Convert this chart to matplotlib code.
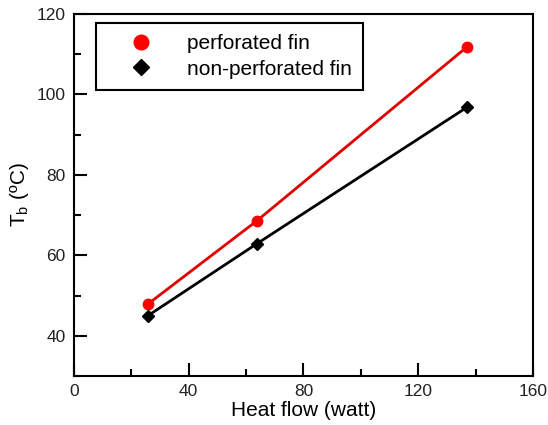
import matplotlib
matplotlib.use('Agg')
import matplotlib.pyplot as plt
from matplotlib.ticker import MultipleLocator

plt.rcParams['font.family'] = ['Liberation Sans', 'DejaVu Sans']

# data
heat_flow = [25.8, 63.8, 137.0]
tb_perforated = [47.9, 68.6, 111.8]
tb_non_perforated = [45.0, 62.9, 96.8]

x_ticks = [0, 40, 80, 120, 160]
y_ticks = [40, 60, 80, 100, 120]

fig = plt.figure(figsize=(5.48, 4.25), dpi=100)
ax = fig.add_axes([0.135, 0.1153, 0.8376, 0.852])

ax.plot(heat_flow, tb_perforated, color='#e00000', lw=2, zorder=2)
ax.plot(heat_flow, tb_non_perforated, color='black', lw=2, zorder=2)
ax.plot(heat_flow, tb_perforated, 'o', color='red', ms=7.5, ls='none',
        label='perforated fin', zorder=3)
ax.plot(heat_flow, tb_non_perforated, 'D', color='black', ms=6, ls='none',
        label='non-perforated fin', zorder=3)

ax.set_xlim(0, 160)
ax.set_ylim(30, 120)
ax.set_xticks(x_ticks)
ax.set_yticks(y_ticks)
ax.xaxis.set_minor_locator(MultipleLocator(20))
ax.yaxis.set_minor_locator(MultipleLocator(10))
ax.tick_params(which='major', direction='in', length=9.5, width=1.5,
               labelsize=12.5, pad=6, labelcolor='#222222')
ax.tick_params(which='minor', direction='in', length=5, width=1.5)
ax.tick_params(top=False, right=False, which='both')
for s in ax.spines.values():
    s.set_linewidth(1.5)

ax.set_xlabel('Heat flow (watt)', fontsize=15, labelpad=1)
ax.set_ylabel('T$_\\mathregular{b}$ (ºC)', fontsize=15, labelpad=4)

leg = ax.legend(loc='upper left', bbox_to_anchor=(0.048, 0.975), fontsize=15,
                fancybox=False, edgecolor='black', framealpha=1,
                borderpad=0.55, handletextpad=0.6, labelspacing=0.3,
                borderaxespad=0, handlelength=3.2, markerscale=1.4)
leg.get_frame().set_linewidth(1.5)

fig.savefig('out.png', dpi=100)
